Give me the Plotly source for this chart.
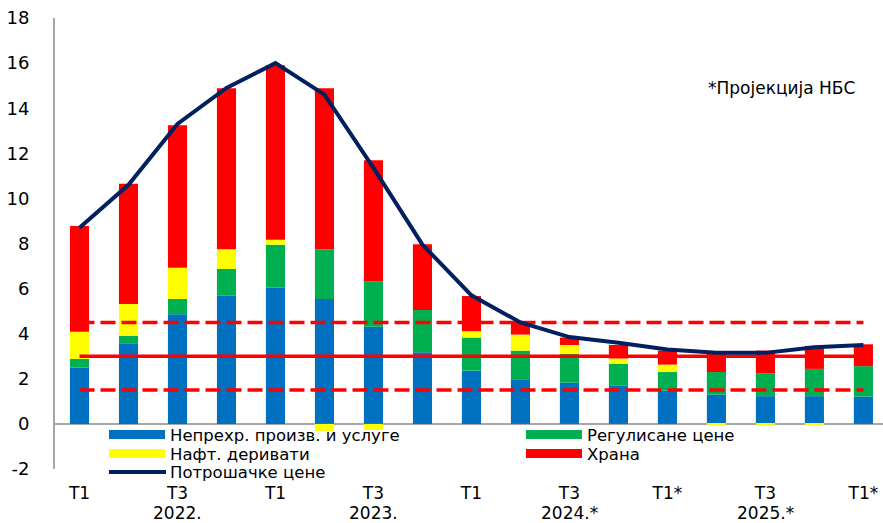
import plotly.graph_objects as go

# Quarters 2022 Q1 .. 2026 Q1
quarters = list(range(17))
tick_pos = [0, 2, 4, 6, 8, 10, 12, 14, 16]
tick_text = ["Т1", "Т3", "Т1", "Т3", "Т1", "Т3", "Т1*", "Т3", "Т1*"]
year_pos = [2, 6, 10, 14]
year_text = ["2022.", "2023.", "2024.*", "2025.*"]

# Contributions to y-o-y inflation, p.p.
core = [2.50, 3.58, 4.86, 5.69, 6.04, 5.54, 4.31, 3.18, 2.36, 1.98, 1.83, 1.71, 1.48, 1.30, 1.23, 1.23, 1.21]
regulated = [0.38, 0.32, 0.68, 1.18, 1.91, 2.20, 2.00, 1.87, 1.47, 1.27, 1.27, 0.95, 0.82, 1.00, 1.02, 1.21, 1.35]
petroleum = [1.21, 1.42, 1.39, 0.87, 0.22, -0.31, -0.27, 0.00, 0.28, 0.71, 0.40, 0.24, 0.33, -0.05, -0.07, -0.03, 0.00]
food = [4.69, 5.33, 6.31, 7.14, 7.73, 7.15, 5.38, 2.92, 1.56, 0.59, 0.33, 0.60, 0.62, 0.86, 1.00, 1.02, 0.97]
cpi = [8.7, 10.6, 13.3, 14.9, 16.0, 14.6, 11.35, 7.95, 5.7, 4.5, 3.85, 3.6, 3.3, 3.15, 3.15, 3.4, 3.5]

target = 3.0
band = 1.5

names = ["Непрехр. произв. и услуге", "Регулисане цене", "Нафт. деривати", "Храна", "Потрошачке цене"]
colors = {"core": "#0070C0", "reg": "#00B050", "oil": "#FFFF00", "food": "#FF0000", "cpi": "#002060"}

FONT = "DejaVu Sans, Arial, sans-serif"
W, H = 883, 523
ML, MR, MT, MB = 55, 0, 18, 54

fig = go.Figure()
for vals, key, nm in [(core, "core", names[0]), (regulated, "reg", names[1]),
                      (petroleum, "oil", names[2]), (food, "food", names[3])]:
    fig.add_trace(go.Bar(x=quarters, y=vals, name=nm, marker_color=colors[key],
                         marker_line_width=0, showlegend=False))

# Inflation target and tolerance band
x_ends = [quarters[0], quarters[-1]]
fig.add_trace(go.Scatter(x=x_ends, y=[target, target], mode="lines",
                         line=dict(color="#FF0000", width=3.5), showlegend=False))
for lvl in (target - band, target + band):
    fig.add_trace(go.Scatter(x=x_ends, y=[lvl, lvl], mode="lines",
                             line=dict(color="#FF0000", width=3.5, dash="15px,6px"),
                             showlegend=False))

fig.add_trace(go.Scatter(x=quarters, y=cpi, mode="lines", name=names[4],
                         line=dict(color=colors["cpi"], width=4), showlegend=False))

# Legend drawn by hand in pixel space
pw, ph = W - ML - MR, H - MT - MB


def px(xp):
    return (xp - ML) / pw


def py(yp):
    return (H - MB - yp) / ph


shapes = []
annots = []
legend_items = [
    (109, 434.5, colors["core"], names[0], "rect"),
    (526, 434.5, colors["reg"], names[1], "rect"),
    (109, 453.5, colors["oil"], names[2], "rect"),
    (526, 453.5, colors["food"], names[3], "rect"),
    (109, 472.0, colors["cpi"], names[4], "line"),
]
for x0, yc, col, txt, kind in legend_items:
    if kind == "rect":
        shapes.append(dict(type="rect", xref="paper", yref="paper",
                           x0=px(x0), x1=px(x0 + 56), y0=py(yc - 4.5), y1=py(yc + 4.5),
                           fillcolor=col, line_width=0, layer="above"))
    else:
        shapes.append(dict(type="line", xref="paper", yref="paper",
                           x0=px(x0), x1=px(x0 + 57), y0=py(yc), y1=py(yc),
                           line=dict(color=col, width=4), layer="above"))
    annots.append(dict(xref="paper", yref="paper", x=px(x0 + 60), y=py(yc + 0.5),
                       text=txt, showarrow=False, xanchor="left", yanchor="middle",
                       borderpad=0,
                       font=dict(family=FONT, size=16.5, color="#000000")))

# Year labels under the Q3 ticks
for xv, txt in zip(year_pos, year_text):
    annots.append(dict(xref="x", yref="paper", x=xv, y=py(512.5),
                       text=txt, showarrow=False, xanchor="center", yanchor="middle",
                       borderpad=0,
                       font=dict(family=FONT, size=17, color="#000000")))

annots.append(dict(xref="paper", yref="paper", x=px(857), y=py(88),
                   text="*Пројекција НБС", showarrow=False, xanchor="right", yanchor="middle",
                   font=dict(family=FONT, size=17, color="#000000")))

fig.update_layout(
    width=W, height=H,
    margin=dict(l=ML, r=MR, t=MT, b=MB),
    paper_bgcolor="white", plot_bgcolor="white",
    barmode="relative", bargap=0.61,
    shapes=shapes, annotations=annots,
    font=dict(family=FONT, size=18, color="#000000"),
)
fig.update_xaxes(range=[-0.5, 16.4], tickmode="array", tickvals=tick_pos, ticktext=tick_text,
                 showgrid=False, zeroline=False, showline=False, ticks="",
                 ticklabelstandoff=12, tickfont=dict(size=17), automargin=False)
fig.update_yaxes(range=[-2, 18], tickmode="array", tickvals=list(range(-2, 19, 2)),
                 ticktext=[str(v) if v >= 0 else "-" + str(-v) for v in range(-2, 19, 2)],
                 showgrid=False, zeroline=True, zerolinecolor="#A6A6A6", zerolinewidth=2,
                 showline=True, linecolor="#A6A6A6", linewidth=2, ticks="",
                 ticklabelstandoff=20, tickfont=dict(size=18), automargin=False)

fig.write_html("out.html")
